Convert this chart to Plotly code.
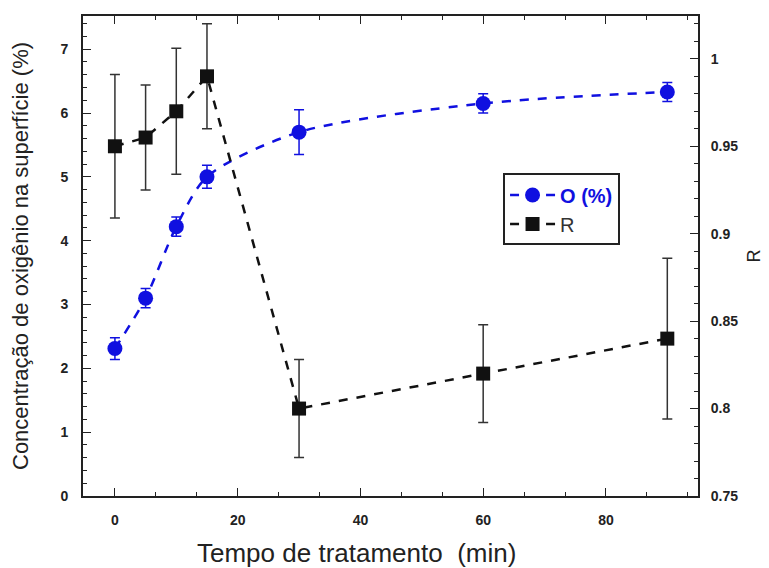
import plotly.graph_objects as go

time_min = [0, 5, 10, 15, 30, 60, 90]
oxygen_pct = [2.31, 3.10, 4.22, 5.00, 5.70, 6.15, 6.33]
oxygen_err = [0.17, 0.15, 0.15, 0.18, 0.35, 0.15, 0.15]
r_values = [0.950, 0.955, 0.970, 0.990, 0.800, 0.820, 0.840]
r_err = [0.041, 0.030, 0.036, 0.030, 0.028, 0.028, 0.046]

left_ticks = [0, 1, 2, 3, 4, 5, 6, 7]
right_ticks = [0.75, 0.8, 0.85, 0.9, 0.95, 1.0]
right_tick_text = ["0.75", "0.8", "0.85", "0.9", "0.95", "1"]
x_ticks = [0, 20, 40, 60, 80]

FONT = "Liberation Sans, Arial"
tickfont = dict(family=FONT, size=14, color="#222222", weight="bold")

fig = go.Figure()
fig.add_trace(go.Scatter(
    x=time_min, y=oxygen_pct,
    name="<span style='color:#1010e0'><b>O (%)</b></span>", mode="lines+markers",
    line=dict(color="#1010e0", width=2.5, dash="dash", shape="spline", smoothing=0.8),
    marker=dict(symbol="circle", size=15, color="#1010e0"),
    error_y=dict(type="data", array=oxygen_err, color="#1010e0", thickness=1.5, width=5),
))
fig.add_trace(go.Scatter(
    x=time_min, y=r_values, name="R", mode="lines+markers", yaxis="y2",
    line=dict(color="#111111", width=2.5, dash="dash"),
    marker=dict(symbol="square", size=14, color="#111111"),
    error_y=dict(type="data", array=r_err, color="#333333", thickness=1.5, width=5),
))

axis_common = dict(showline=True, linecolor="#222222", linewidth=2, ticks="inside",
                   tickcolor="#222222", showgrid=False, zeroline=False, tickfont=tickfont)

fig.update_layout(
    width=769, height=568,
    margin=dict(l=75, r=79, t=6, b=80),
    plot_bgcolor="white", paper_bgcolor="white",
    showlegend=True,
    legend=dict(x=0.683, y=0.672, xanchor="left", yanchor="top",
                bordercolor="#222222", borderwidth=2, bgcolor="white",
                font=dict(family=FONT, size=20, color="#333333"),
                itemwidth=45, tracegroupgap=10),
    xaxis=dict(range=[-5.2, 95], tickvals=x_ticks, ticklen=8, mirror="ticks",
               ticklabelstandoff=10,
               minor=dict(dtick=20/3, ticklen=4, ticks="inside", tickcolor="#222222"),
               **axis_common),
    yaxis=dict(range=[0, 7.52], tickvals=left_ticks, ticklen=8, ticklabelstandoff=10,
               minor=dict(dtick=0.2, ticklen=4, ticks="inside", tickcolor="#222222"),
               title=dict(text="Concentração de oxigênio na superfície (%)",
                          font=dict(family=FONT, size=22, color="#222222"),
                          standoff=27),
               **axis_common),
    yaxis2=dict(range=[0.75, 1.0245], overlaying="y", side="right",
                tickvals=right_ticks, ticktext=right_tick_text, ticklen=8,
                ticklabelstandoff=8,
                minor=dict(dtick=0.01, ticklen=4, ticks="inside", tickcolor="#222222"),
                title=dict(text="R", font=dict(family=FONT, size=18, color="#222222"),
                           standoff=10),
                **axis_common),
    annotations=[dict(text="Tempo de tratamento  (min)", xref="paper", yref="paper",
                      x=0.444, y=0, yshift=-57, xanchor="center", yanchor="middle",
                      showarrow=False,
                      font=dict(family=FONT, size=26, color="#222222"))],
)

fig.write_html("out.html")
